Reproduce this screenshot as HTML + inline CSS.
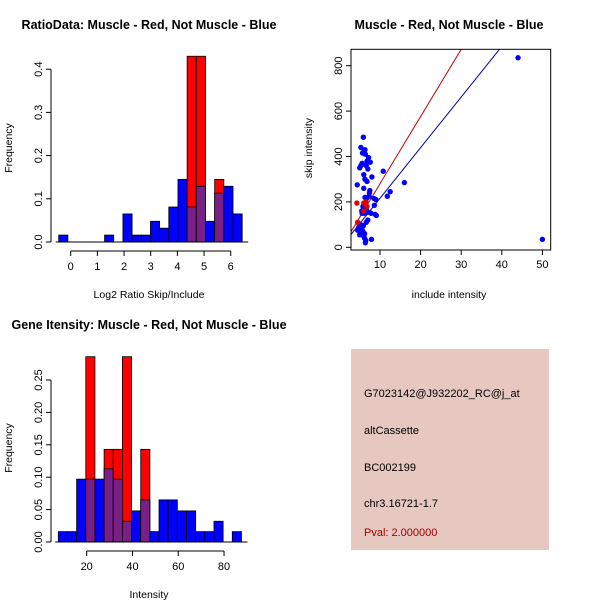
<!DOCTYPE html>
<html><head><meta charset="utf-8"><style>
body{margin:0;background:#fff;}
svg{display:block;font-family:"Liberation Sans",sans-serif;}
</style></head><body>
<svg id="c" width="600" height="600" viewBox="0 0 600 600" xmlns="http://www.w3.org/2000/svg">
<rect width="600" height="600" fill="#fff"/>
<text x="149" y="29" font-size="12.5" font-weight="bold" text-anchor="middle">RatioData: Muscle - Red, Not Muscle - Blue</text>
<text x="449" y="29" font-size="12.5" font-weight="bold" text-anchor="middle">Muscle - Red, Not Muscle - Blue</text>
<text x="149" y="329" font-size="12.5" font-weight="bold" text-anchor="middle">Gene Itensity: Muscle - Red, Not Muscle - Blue</text>
<g>
<rect x="351" y="349" width="198" height="201" fill="#e6c8c0"/>
<text x="364" y="397" font-size="11">G7023142@J932202_RC@j_at</text>
<text x="364" y="434" font-size="11">altCassette</text>
<text x="364" y="471" font-size="11">BC002199</text>
<text x="364" y="507" font-size="11">chr3.16721-1.7</text>
<text x="364" y="536" font-size="11" fill="#a00000">Pval: 2.000000</text>
</g>
</svg>
<script>
// Histogram 1 data
const h1Blue=[0.016,0,0,0,0,0.016,0,0.065,0.016,0.016,0.048,0.032,0.081,0.145,0.081,0.129,0.048,0.113,0.129,0.065];
const h1Red=[0,0,0,0,0,0,0,0,0,0,0,0,0,0,0.43,0.43,0,0.145,0,0];
const h1XTicks=[0,1,2,3,4,5,6];
const h1YTicks=[0.0,0.1,0.2,0.3,0.4];
// Histogram 2 data
const h2Blue=[0.016,0.016,0.097,0.097,0.097,0.113,0.097,0.032,0.048,0.065,0.016,0.065,0.065,0.048,0.048,0.016,0.016,0.032,0,0.016];
const h2Red=[0,0,0,0.286,0,0.143,0.143,0.286,0,0.143,0,0,0,0,0,0,0,0,0,0];
const h2XTicks=[20,40,60,80];
const h2YTicks=["0.00","0.05","0.10","0.15","0.20","0.25"];
// Scatter data
const blueX=[4.5,5,5.2,5.5,5.8,6,6.2,6.5,5.3,5.7,6.1,6.4,6.8,7.2,7.6,8,5.9,6.3,6.6,7,7.4,4.4,6,6.3,6.8,7.5,8.5,9,5.5,5.8,6.1,6.6,7,7.8,8.6,9.1,5,5.3,5.6,6,6.3,6.7,7.3,4.8,5.2,5.5,5.9,6.2,6.6,7,7.9,6.2,6.8,10.8,11.8,12.5,16,44,50,8.8,5.6,6.4];
const blueY=[75,55,60,80,70,50,40,30,440,415,425,410,380,395,375,310,485,430,360,345,240,275,320,300,290,250,215,210,160,180,150,170,155,150,185,140,350,360,370,260,220,215,225,90,100,85,95,60,110,120,35,195,160,335,225,245,285,835,35,145,150,20];
const redX=[4.3,4.5,6,6.5,6.8,6];
const redY=[195,110,195,200,180,160];
const redFit=[-16,29.6];
const blueFit=[-7,22.3];
const scXTicks=[10,20,30,40,50];
const scYTicks=[0,200,400,600,800];

const NS="http://www.w3.org/2000/svg";
const svg=document.getElementById('c');
function mk(tag,at,parent){const e=document.createElementNS(NS,tag);for(const k in at)e.setAttribute(k,at[k]);(parent||svg).appendChild(e);return e;}
function txt(x,y,s,size,anchor,rot,parent){const t=mk('text',{x:x,y:y,'font-size':size,'text-anchor':anchor||'middle'},parent);if(rot)t.setAttribute('transform','rotate(-90 '+x+' '+y+')');t.textContent=s;return t;}

function hist(cfg){
  const g=mk('g',{});
  
  
  const X=v=>cfg.x0+(v-cfg.xv0)*cfg.xs, Y=v=>cfg.y0-v*cfg.ys;
  for(let i=0;i<cfg.blue.length;i++){
    const a=cfg.start+i*cfg.bw,b=a+cfg.bw,bv=cfg.blue[i],rv=cfg.red[i];
    const lo=Math.min(bv,rv),hi=Math.max(bv,rv);
    if(hi<=0)continue;
    const topC=rv>bv?'#ff0000':'#0000ff';
    const r1=mk('rect',{x:X(a),y:Y(hi),width:X(b)-X(a),height:Y(0)-Y(hi),fill:topC,stroke:'#000','stroke-width':0.8},g);
    
    
    if(lo>0){
      const r2=mk('rect',{x:X(a),y:Y(lo),width:X(b)-X(a),height:Y(0)-Y(lo),fill:'#7a1f86',stroke:'#000','stroke-width':0.8},g);
      
      
    }
  }
  // axes
  const xa=mk('g',{},g);
  const xt=cfg.xticks;
  mk('line',{x1:X(xt[0]),x2:X(xt[xt.length-1]),y1:cfg.axY,y2:cfg.axY,stroke:'#000'},xa);
  xt.forEach(v=>{mk('line',{x1:X(v),x2:X(v),y1:cfg.axY,y2:cfg.axY+5,stroke:'#000'},xa);const t=txt(X(v),cfg.axY+19,String(v),11,'middle',0,xa);});
  const ya=mk('g',{},g);
  const yt=cfg.yticks;
  mk('line',{x1:cfg.axX,x2:cfg.axX,y1:Y(+yt[0]),y2:Y(+yt[yt.length-1]),stroke:'#000'},ya);
  yt.forEach(v=>{const y=Y(+v);mk('line',{x1:cfg.axX-5,x2:cfg.axX,y1:y,y2:y,stroke:'#000'},ya);const t=txt(cfg.axX-9,y,String(v),11,'middle',1,ya);});
  mk('line',{x1:X(cfg.start)-3,x2:X(cfg.start+cfg.blue.length*cfg.bw)+6,y1:cfg.y0,y2:cfg.y0,stroke:'#000'},g);
  const xl=txt(cfg.xlx,cfg.xly,cfg.xlabel,10.5,'middle',0,g);
  const yl=txt(12,cfg.yly,'Frequency',10.5,'middle',1,g);
}
hist({name:'ratio-histogram',blue:h1Blue,red:h1Red,start:-0.45,bw:0.344,x0:70.7,xv0:0,xs:26.67,y0:242,ys:432,xticks:h1XTicks,yticks:h1YTicks.map(v=>v.toFixed(1)),axY:251,axX:51,xlabel:'Log2 Ratio Skip/Include',xlx:149,xly:298,yly:148});
hist({name:'intensity-histogram',blue:h2Blue,red:h2Red,start:7.6,bw:4.0,x0:86.7,xv0:20,xs:2.289,y0:542,ys:648,xticks:h2XTicks,yticks:h2YTicks,axY:551,axX:51,xlabel:'Intensity',xlx:149,xly:598,yly:448});

// scatter
(function(){
  const g=mk('g',{});
  const X=v=>339.4+v*4.06, Y=v=>247.3-v*0.227;
  const cp=mk('clipPath',{id:'scclip'},g);mk('rect',{x:351,y:49.3,width:199.7,height:200.7},cp);
  const lg=mk('g',{'clip-path':'url(#scclip)'},g);
  const fl=(f,col,n)=>{const l=mk('line',{x1:X(0),y1:Y(f[0]),x2:X(60),y2:Y(f[0]+f[1]*60),stroke:col,'stroke-width':1},lg);};
  fl(redFit,'#c00000','red-fit-line');fl(blueFit,'#00009a','blue-fit-line');
  blueX.forEach((x,i)=>{const c=mk('circle',{cx:X(x),cy:Y(blueY[i]),r:2.7,fill:'#0000ff'},lg);});
  redX.forEach((x,i)=>{const c=mk('circle',{cx:X(x),cy:Y(redY[i]),r:2.7,fill:'#e00000'},lg);});
  mk('rect',{x:351,y:49.3,width:199.7,height:200.7,fill:'none',stroke:'#000'},g);
  const xa=mk('g',{},g);
  scXTicks.forEach(v=>{mk('line',{x1:X(v),x2:X(v),y1:250,y2:255,stroke:'#000'},xa);const t=txt(X(v),268,String(v),11,'middle',0,xa);});
  const ya=mk('g',{},g);
  scYTicks.forEach(v=>{mk('line',{x1:346,x2:351,y1:Y(v),y2:Y(v),stroke:'#000'},ya);const t=txt(342,Y(v),String(v),11,'middle',1,ya);});
  const xl=txt(449,298,'include intensity',10.5,'middle',0,g);
  const yl=txt(312,148,'skip intensity',10.5,'middle',1,g);
})();
</script>
</body></html>
